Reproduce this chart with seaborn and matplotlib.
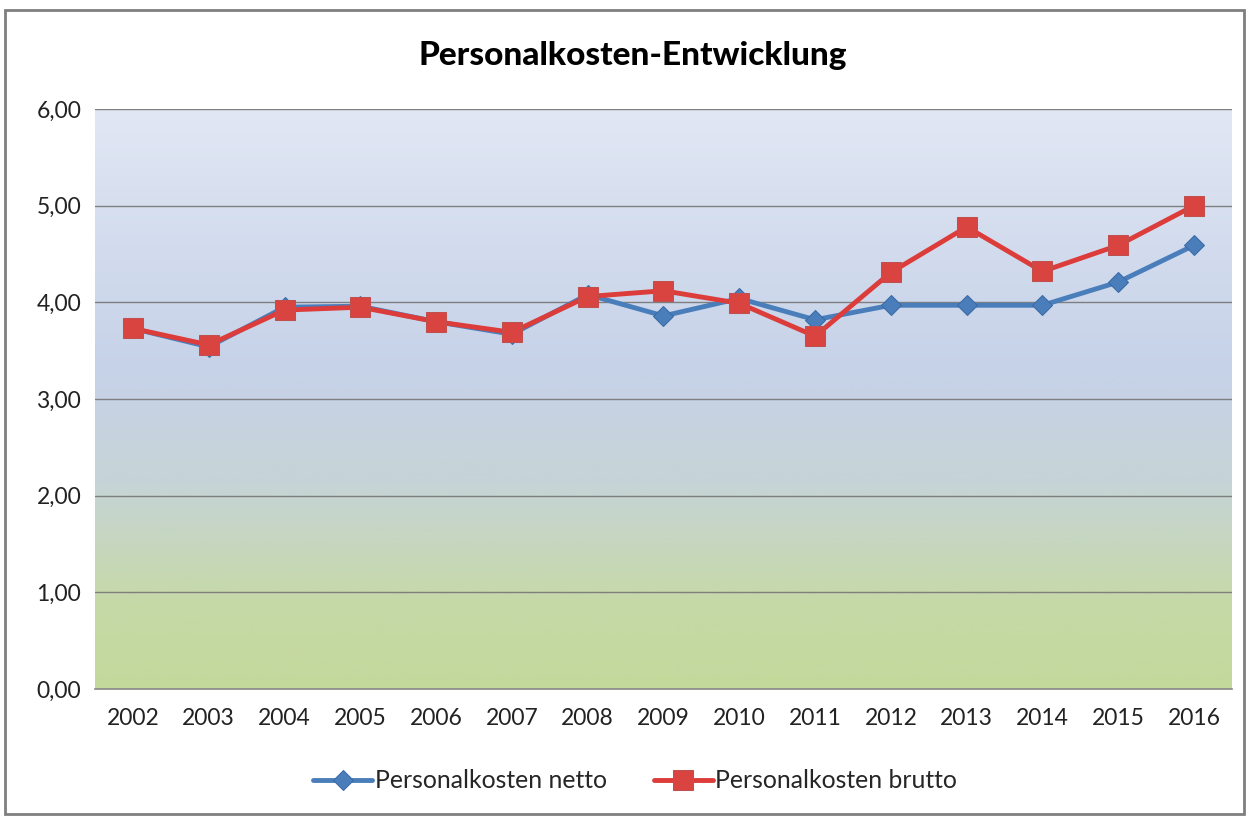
import numpy as np
import pandas as pd
import matplotlib
matplotlib.use("Agg")
import matplotlib.pyplot as plt
from matplotlib.colors import LinearSegmentedColormap
from matplotlib.patches import Rectangle
from matplotlib.ticker import FuncFormatter
import seaborn as sns

years = ["2002", "2003", "2004", "2005", "2006", "2007", "2008", "2009",
         "2010", "2011", "2012", "2013", "2014", "2015", "2016"]
netto = [3.73, 3.54, 3.95, 3.96, 3.80, 3.67, 4.08, 3.86,
         4.04, 3.82, 3.97, 3.97, 3.97, 4.21, 4.59]
brutto = [3.73, 3.56, 3.92, 3.95, 3.80, 3.69, 4.06, 4.12,
          3.99, 3.65, 4.31, 4.78, 4.32, 4.59, 5.00]
y_ticks = [0, 1, 2, 3, 4, 5, 6]

sns.set_theme(style="white")
plt.rcParams['font.family'] = ['Lato', 'DejaVu Sans']

df = pd.DataFrame({"Jahr": years, "netto": netto, "brutto": brutto})

fig = plt.figure(figsize=(12.52, 8.16), dpi=100)
fig.patch.set_facecolor("white")
ax = fig.add_axes([0.0759, 0.1556, 0.9081, 0.7108])

# background gradient like the excel chart
cmap = LinearSegmentedColormap.from_list(
    "bg", [(0.0, "#c3d99b"), (0.15, "#c6d9a8"), (0.35, "#c6d4d6"),
           (0.55, "#c6d2e8"), (1.0, "#e1e7f4")])
grad = np.linspace(0, 1, 256).reshape(-1, 1)
ax.imshow(grad, cmap=cmap, origin="lower", aspect="auto",
          extent=[0, 1, 0, 1], transform=ax.transAxes, zorder=0)

sns.lineplot(data=df, x="Jahr", y="netto", ax=ax, color="#4a7ebb", linewidth=3.5,
             marker="D", markersize=10, markerfacecolor="#4a7ebb",
             markeredgecolor="#3a6aa5", label="Personalkosten netto", zorder=3)
sns.lineplot(data=df, x="Jahr", y="brutto", ax=ax, color="#dc3c3a", linewidth=3.5,
             marker="s", markersize=15, markerfacecolor="#d94441",
             markeredgecolor="#c0504d", label="Personalkosten brutto", zorder=4)

ax.set_xlim(-0.5, len(years) - 0.5)
ax.set_ylim(0, 6)
ax.set_yticks(y_ticks)
ax.yaxis.set_major_formatter(FuncFormatter(lambda v, p: f"{v:.2f}".replace(".", ",")))
ax.grid(axis="y", color="#7f7f7f", linewidth=1)
for l in ax.get_ygridlines():
    l.set_zorder(1)
ax.grid(axis="x", visible=False)
ax.set_xlabel("")
ax.set_ylabel("")
for s in ["top", "right", "left"]:
    ax.spines[s].set_visible(False)
ax.spines["bottom"].set_color("#8c8c8c")
ax.tick_params(axis="both", length=0, labelsize=16.5, colors="#222222", pad=14)
ax.tick_params(axis="y", pad=10)

fig.text(0.505, 0.932, "Personalkosten-Entwicklung", ha="center", va="center",
         fontsize=24, fontweight="black", color="black")

ax.legend(loc="upper center", bbox_to_anchor=(0.475, -0.1), ncol=2, frameon=False,
          fontsize=17.8, handlelength=2.4, columnspacing=1.9, handletextpad=0.1)

fig.patches.append(Rectangle((0.004, 0.003), 0.99, 0.985, transform=fig.transFigure,
                             fill=False, edgecolor="#7f7f7f", linewidth=2))

fig.savefig("out.png", dpi=100)
